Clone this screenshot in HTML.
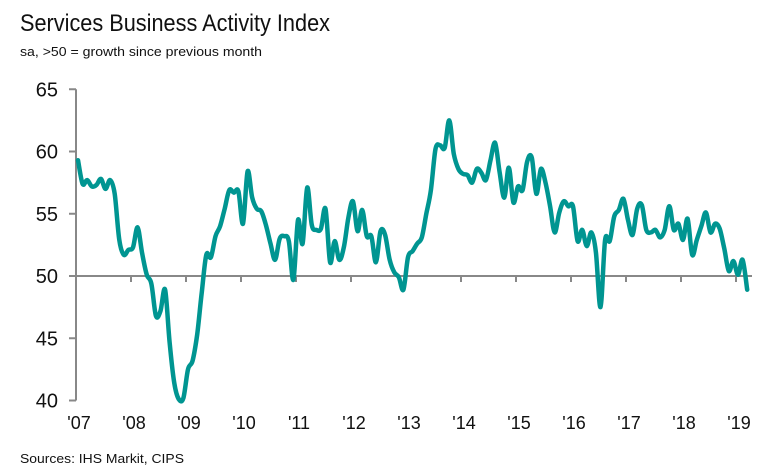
<!DOCTYPE html>
<html><head><meta charset="utf-8"><style>
html,body{margin:0;padding:0;background:#fff;}
svg{display:block;font-family:"Liberation Sans",sans-serif;}
</style></head><body>
<svg id="chart" width="776" height="472" viewBox="0 0 776 472">
<text x="20" y="31" font-size="24" fill="#111" textLength="310" lengthAdjust="spacingAndGlyphs">Services Business Activity Index</text>
<text x="20" y="56" font-size="13" fill="#111" textLength="242" lengthAdjust="spacingAndGlyphs">sa, &gt;50 = growth since previous month</text>
<text x="20" y="463" font-size="13" fill="#111" textLength="164" lengthAdjust="spacingAndGlyphs">Sources: IHS Markit, CIPS</text>
<g id="axes"></g>
<g id="series"></g>
</svg>
<script>
const yTicks = [40, 45, 50, 55, 60, 65];
const xLabels = ["'07","'08","'09","'10","'11","'12","'13","'14","'15","'16","'17","'18","'19"];
const values = [59.3,57.4,57.7,57.2,57.3,57.8,57.0,57.7,56.6,52.9,51.7,52.1,
52.3,53.9,51.8,50.1,49.4,46.8,47.2,48.9,44.6,41.4,40.1,40.2,
42.5,43.2,45.3,48.7,51.7,51.5,53.2,54.0,55.4,56.9,56.7,56.8,
54.2,58.4,56.3,55.4,55.2,54.1,52.6,51.3,53.0,53.2,52.8,49.7,
54.5,52.6,57.1,54.1,53.7,53.8,55.4,51.1,52.8,51.3,52.3,54.7,
56.0,53.6,55.3,53.2,53.2,51.1,53.6,53.3,51.3,50.3,49.9,48.9,
51.5,52.0,52.6,53.1,55.0,56.9,60.2,60.5,60.3,62.5,59.8,58.6,
58.2,58.1,57.5,58.6,58.3,57.7,59.3,60.7,58.3,56.3,58.7,55.9,
57.2,56.9,59.2,59.5,56.6,58.6,57.5,55.6,53.5,55.1,56.0,55.6,
55.6,52.8,53.7,52.4,53.5,51.9,47.5,52.9,52.8,54.8,55.3,56.2,
54.5,53.3,55.4,55.7,53.7,53.5,53.7,53.1,53.7,55.6,53.7,54.2,
52.9,54.6,51.7,52.9,54.0,55.1,53.5,54.2,53.8,52.2,50.4,51.2,
50.1,51.3,48.9];
const NS="http://www.w3.org/2000/svg";
const x0=76, yearW=55.0, monthW=yearW/12;
function xPos(i){return x0+2+i*monthW;}
function yPos(v){return 276-(v-50)*12.45;}
const axes=document.getElementById('axes');
function mk(tag,attrs,parent){const e=document.createElementNS(NS,tag);for(const k in attrs)e.setAttribute(k,attrs[k]);parent.appendChild(e);return e;}
const yl=mk('line',{x1:x0,x2:x0,y1:yPos(65),y2:yPos(40),stroke:'#888','stroke-width':2},axes);


yTicks.forEach(t=>{
  const tk=mk('line',{x1:x0-7,x2:x0,y1:yPos(t),y2:yPos(t),stroke:'#888','stroke-width':2},axes);
  
  
  const lb=mk('text',{x:58,y:yPos(t)+7,'font-size':20,'text-anchor':'end',fill:'#111'},axes);
  lb.textContent=t;
  
  
});
const xl=mk('line',{x1:x0,x2:752,y1:yPos(50),y2:yPos(50),stroke:'#888','stroke-width':2},axes);


xLabels.forEach((s,i)=>{
  const x=x0+i*yearW;
  if(i>0){const tk=mk('line',{x1:x,x2:x,y1:yPos(50),y2:yPos(50)+6,stroke:'#888','stroke-width':2},axes);
  
  }
  const lb=mk('text',{x:x+3,y:429,'font-size':18,'text-anchor':'middle',fill:'#111'},axes);
  lb.textContent=s;
  
  
});
const pts=values.map((v,i)=>[xPos(i),yPos(v)]);
let d='M'+pts[0][0].toFixed(1)+' '+pts[0][1].toFixed(1);
for(let i=0;i<pts.length-1;i++){
  const p0=pts[Math.max(0,i-1)],p1=pts[i],p2=pts[i+1],p3=pts[Math.min(pts.length-1,i+2)];
  const t=0.5/3;
  const c1=[p1[0]+(p2[0]-p0[0])*t,p1[1]+(p2[1]-p0[1])*t];
  const c2=[p2[0]-(p3[0]-p1[0])*t,p2[1]-(p3[1]-p1[1])*t];
  d+=' C'+c1[0].toFixed(1)+' '+c1[1].toFixed(1)+' '+c2[0].toFixed(1)+' '+c2[1].toFixed(1)+' '+p2[0].toFixed(1)+' '+p2[1].toFixed(1);
}
const p=mk('path',{d:d,fill:'none',stroke:'#009591','stroke-width':4.5,'stroke-linejoin':'round','stroke-linecap':'round'},document.getElementById('series'));


</script>
</body></html>
